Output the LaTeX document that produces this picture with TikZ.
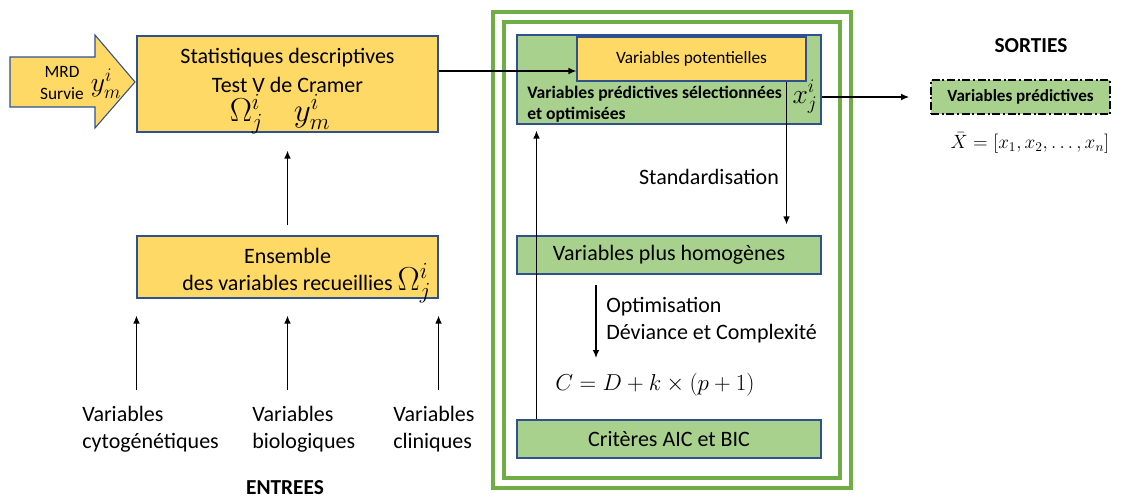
\documentclass[tikz,border=0pt]{standalone}
\usepackage{fontspec}
\setmainfont{Carlito}
\usetikzlibrary{positioning,calc,arrows.meta}
\definecolor{jaune}{HTML}{FFD966}
\definecolor{vertclair}{HTML}{A9D18E}
\definecolor{vertcadre}{HTML}{70AD47}
\definecolor{bordbleu}{HTML}{2F528F}
\tikzset{
  boitejaune/.style={draw=bordbleu, fill=jaune, line width=0.8pt, align=center},
  boiteverte/.style={draw=bordbleu, fill=vertclair, line width=0.8pt, align=center},
  txt/.style={inner sep=0pt, font=\fontsize{16.5}{20}\selectfont},
  grandmath/.style={inner sep=0pt, font=\fontsize{23}{23}\selectfont},
  fl/.style={-{Latex[length=6pt,width=5pt]}, line width=1pt},
  cadre/.style={draw=vertcadre, line width=3pt}
}

\begin{document}
\begin{tikzpicture}[x=0.75pt, y=-0.75pt]
    \useasboundingbox (0,0) rectangle (1123,500);

    % entree MRD / Survie
    \draw[draw=bordbleu, fill=jaune, line width=0.8pt]
        (10,57) -- (95,57) -- (95,35) -- (135,82) -- (95,128) -- (95,107) -- (10,107) -- cycle;
    \node(mrd)[inner sep=0pt, align=center, font=\fontsize{13}{17}\selectfont] at (62,83) {MRD\\Survie};
    \node(ymarrow)[grandmath, font=\fontsize{21}{21}\selectfont] at (106,84) {$y_m^i$};

    % partie gauche
    \node(stat)[boitejaune, minimum width=225.75pt, minimum height=72pt] at (287.5,84) {};
    \node(stat1)[txt] at (287.5,58) {Statistiques descriptives};
    \node(stat2)[txt] at (287.5,85) {Test V de Cramer};
    \node(stat3)[grandmath] at (280,114) {$\Omega_j^i\quad y_m^i$};
    \node(ens)[boitejaune, minimum width=225.75pt, minimum height=46.5pt] at (287.5,267) {};
    \node(ens1)[txt] at (287.5,256) {Ensemble};
    \node(ens2)[txt] at (287.5,283) {des variables recueillies\rlap{\ \fontsize{23}{23}\selectfont$\Omega_j^i$}};
    \draw[fl, shorten <=7.5pt, shorten >=13.5pt] (ens.north) -- (stat.south);

    \node(cyto)[txt, anchor=north west, align=left] at (82,406) {Variables\\cytogénétiques};
    \node(bio)[txt, anchor=north west, align=left] at (252,406) {Variables\\biologiques};
    \node(clin)[txt, anchor=north west, align=left] at (393,406) {Variables\\cliniques};
    \draw[fl, shorten <=12pt, shorten >=12.75pt] (ens.south west |- cyto.north) -- (ens.south west);
    \draw[fl, shorten <=12pt, shorten >=12.75pt] (ens.south |- bio.north) -- (ens.south);
    \draw[fl, shorten <=12pt, shorten >=12.75pt] (ens.south east |- clin.north) -- (ens.south east);
    \node(entrees)[txt, font=\fontsize{16}{20}\selectfont\bfseries] at (285,488) {ENTREES};

    % cadre vert double
    \draw[cadre] (493,12) rectangle (851,488);
    \draw[cadre] (504,22) rectangle (840,478);

    % partie centrale
    \node(vsel)[boiteverte, minimum width=228pt, minimum height=66.75pt] at (669,79.5) {};
    \node(pot)[boitejaune, minimum width=171.75pt, minimum height=33pt,
        font=\fontsize{13}{15}\selectfont] at (691.5,59) {Variables potentielles};
    \node(seltxt)[inner sep=0pt, anchor=west, align=left, font=\fontsize{13.2}{16}\selectfont\bfseries]
        at (527,104) {Variables prédictives sélectionnées\\et optimisées};
    \node(xj)[grandmath, font=\fontsize{22}{22}\selectfont] at (805,97) {$x_j^i$};
    \draw[fl] ([yshift=9.75pt]stat.east) -- ([yshift=9.75pt]stat.east -| pot.west);

    \node(homog)[boiteverte, minimum width=228pt, minimum height=28.5pt, font=\fontsize{16.5}{20}\selectfont]
        at (669,255) {Variables plus homogènes};
    \node(crit)[boiteverte, minimum width=228pt, minimum height=28.5pt, font=\fontsize{16.5}{20}\selectfont]
        at (669,439) {Critères AIC et BIC};

    \draw[fl, shorten >=8.25pt] ([xshift=-15pt]pot.south east) -- ([xshift=-15pt]pot.south east |- homog.north);
    \node(std)[txt] at (709,177) {Standardisation};

    \coordinate(opt1) at (596,285);
    \coordinate(opt2) at (596,358);
    \draw[fl] (opt1) -- (opt2);
    \node(optim)[txt, anchor=north west, align=left] at (606,297) {Optimisation\\Déviance et Complexité};
    \node(form)[inner sep=0pt, font=\fontsize{17}{17}\selectfont] at (655,385) {$C=D+k\times(p+1)$};

    \draw[fl, shorten >=4.5pt] ([xshift=15pt]crit.north west) -- ([xshift=15pt]vsel.south west);

    % sorties
    \node(sorties)[txt, font=\fontsize{16}{20}\selectfont\bfseries] at (1031,46) {SORTIES};
    \node(out)[fill=vertclair, draw=black, line width=1.2pt, dash pattern=on 6pt off 2pt on 1.5pt off 2pt,
        minimum width=134.25pt, minimum height=25.5pt, font=\fontsize{12.8}{15}\selectfont\bfseries]
        at (1020.5,97) {Variables prédictives};
    \node(xbar)[inner sep=0pt, font=\fontsize{14}{14}\selectfont] at (1030,143) {$\bar{X}=\left[x_1,x_2,\ldots,x_n\right]$};
    \draw[fl, shorten >=15.75pt] (vsel.east |- out.west) -- (out.west);
\end{tikzpicture}
\end{document}
